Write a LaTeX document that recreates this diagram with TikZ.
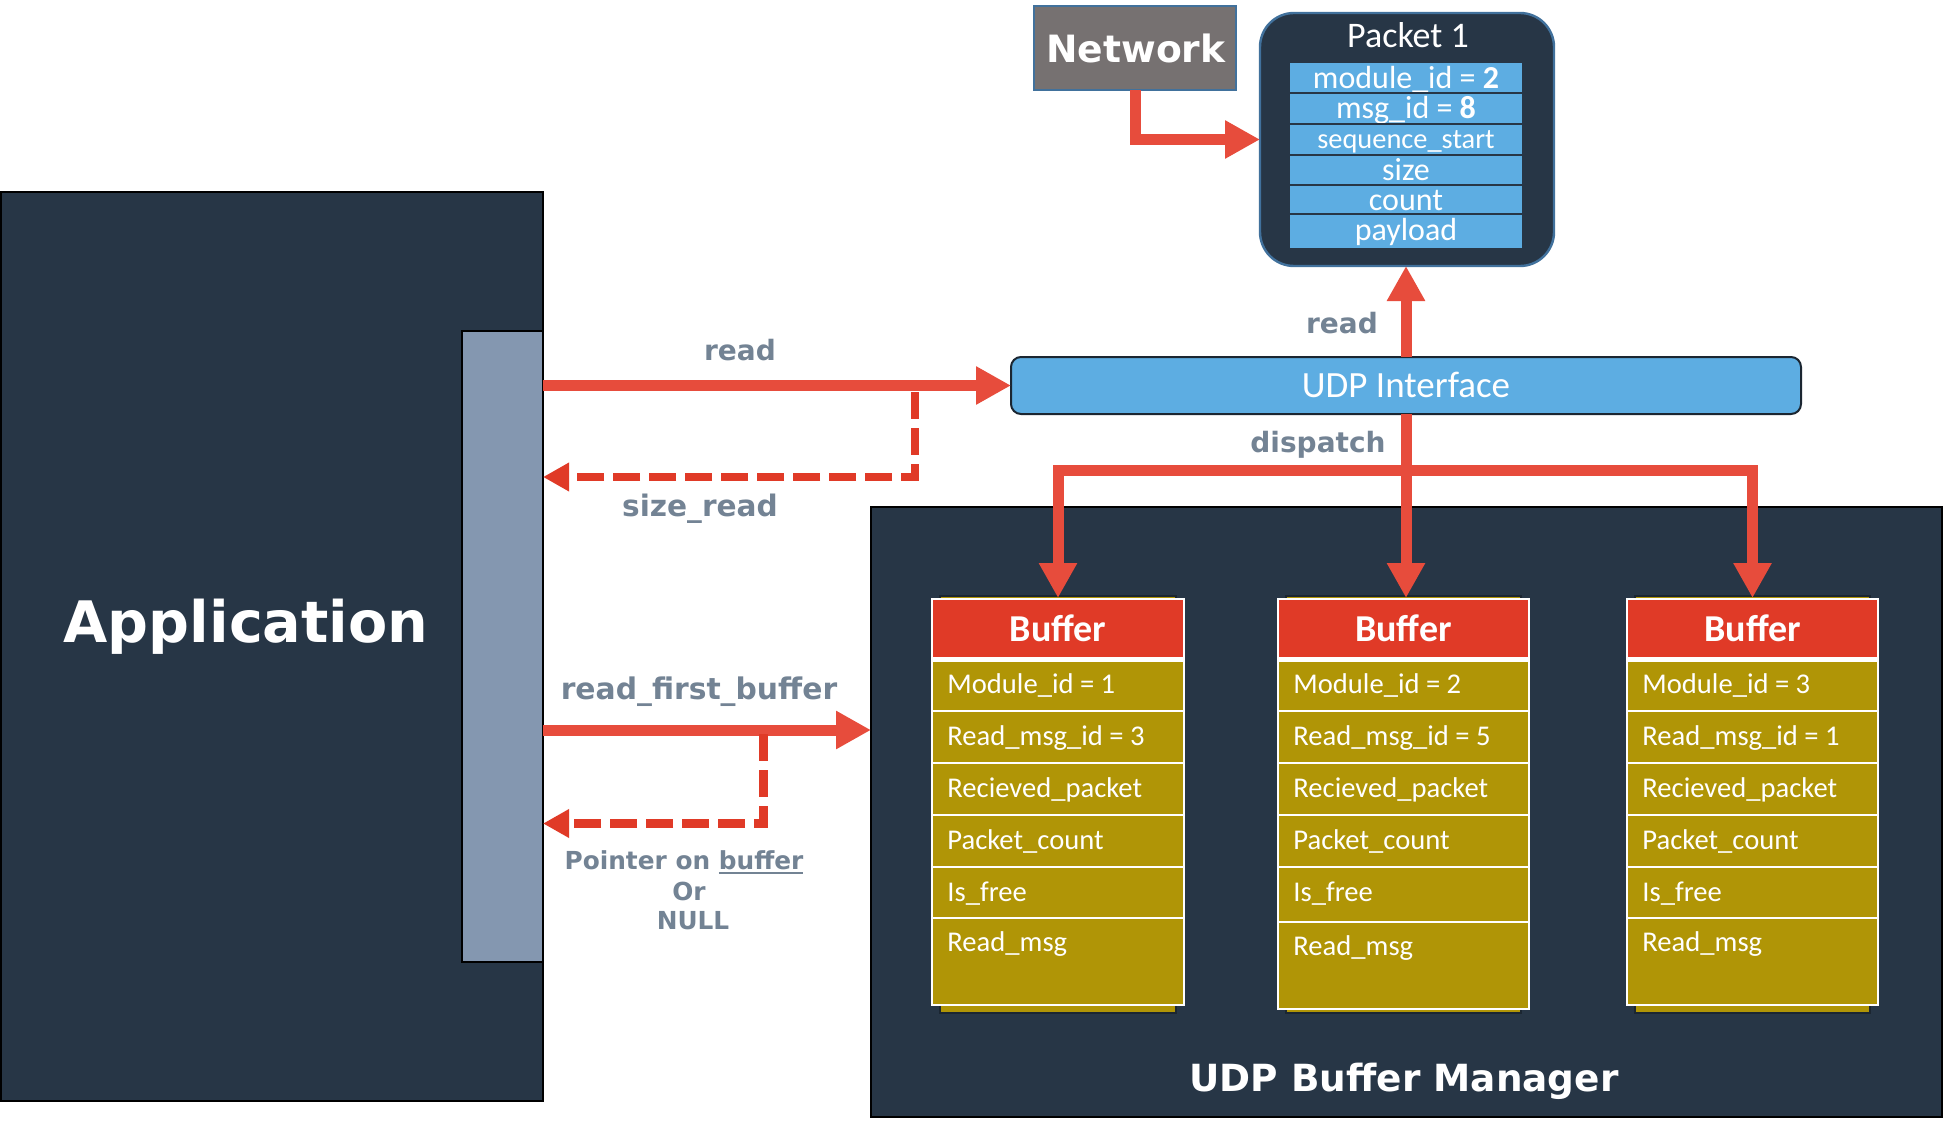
\documentclass[tikz,border=0pt]{standalone}
\usepackage{fontspec}
\setmainfont{DejaVu Sans}
\newfontfamily\carl{Carlito}
\usetikzlibrary{arrows.meta,fit}
\definecolor{navy}{HTML}{273646}
\definecolor{barblue}{HTML}{8497B0}
\definecolor{netgray}{HTML}{767171}
\definecolor{edgeblue}{HTML}{41719C}
\definecolor{skyb}{HTML}{5DADE2}
\definecolor{hdrred}{HTML}{E03A27}
\definecolor{gold}{HTML}{B09506}
\definecolor{arrred}{HTML}{E74C3C}
\definecolor{dashred}{HTML}{E03A27}
\definecolor{lblgray}{HTML}{738394}
\definecolor{shadowc}{HTML}{1B2631}
\definecolor{udpedge}{HTML}{1B2631}
\newcommand\fsz[1]{\fontsize{#1}{#1}\selectfont}
\newcommand\myul[1]{\setbox0\hbox{#1}\rlap{\rule[-2.4pt]{\wd0}{1pt}}\box0}
\begin{document}
\begin{tikzpicture}[x=0.5pt,y=-0.5pt,
  fitbox/.style={inner sep=0pt, outer sep=0pt},
  lbl/.style={text=lblgray, font=\bfseries\fsz{14}, inner sep=0pt, anchor=base},
  wtxt/.style={text=white, inner sep=0pt, anchor=base},
  rowtxt/.style={text=white, font=\carl\fsz{14.3}, inner sep=0pt, anchor=base west},
  redln/.style={draw=arrred, line width=5.5pt},
  redarr/.style={redln, -{Triangle[length=17.5pt,width=18pt]}},
  dashln/.style={draw=dashred, line width=4.2pt, dash pattern=on 13.5pt off 4.5pt, -{Triangle[length=13pt,width=13.5pt]}},
]
\useasboundingbox (0,0) rectangle (1943,1123);
\fill[white] (0,0) rectangle (1943,1123);

% Application
\node[fitbox, fit={(1,192) (543,1101)}, fill=navy, draw=black, line width=1.2pt] (app) {};
\node[fitbox, fit={(462,331) (543,962)}, fill=barblue, draw=black, line width=1pt] (bar) {};
\node[wtxt, font=\bfseries\fsz{28.6}] (apptxt) at (246,642) {Application};

% Network
\node[fitbox, fit={(1034,6) (1236,90)}, fill=netgray, draw=edgeblue, line width=1pt] (net) {};
\node[wtxt, font=\bfseries\fsz{18.8}] (nettxt) at (1136,63) {Network};

% Packet
\node[fitbox, fit={(1260,13) (1554,266)}, fill=navy, draw=edgeblue, line width=1.2pt, rounded corners=17pt] (pkt) {};
\node[wtxt, font=\carl\fsz{18}] (pkttitle) at (1408,48) {Packet 1};
\foreach \n/\t/\b/\bl/\sz/\txt in {1/62/93/88.5/16/{module\_id  = \textbf{2}}, 2/93/124/118.5/16/{msg\_id = \textbf{8}}, 3/124/155/148.5/14.2/{sequence\_start}, 4/155/185/180.5/16/{size}, 5/185/214/210.5/16/{count}, 6/214/249/240.5/16/{payload}}{
  \node[fitbox, fit={(1289,\t) (1523,\b)}, fill=skyb, draw=navy, line width=1.2pt] (fld\n) {};
  \node[wtxt, font=\carl\fsz{\sz}] (fldt\n) at (1406,\bl) {\txt};
}

% UDP interface
\node[fitbox, fit={(1011,357) (1801,414)}, fill=skyb, draw=udpedge, line width=1pt, rounded corners=5pt] (udp) {};
\node[wtxt, font=\carl\fsz{18.5}] (udptxt) at (1406,397) {UDP Interface};

% Manager
\node[fitbox, fit={(871,507) (1942,1117)}, fill=navy, draw=black, line width=1.2pt] (mgr) {};
\node[wtxt, font=\bfseries\fsz{18.7}] (mgrtxt) at (1404,1091) {UDP Buffer Manager};

% Buffers
\foreach \i/\bl/\br/\mi/\ri/\fb/\bb in {1/931/1185/1/3/918/1006, 2/1277/1530/2/5/922/1010, 3/1626/1879/3/1/918/1006}{
  \node[fitbox, fit={(\bl+9,596) (\br-9,1013)}, fill=gold, draw=shadowc, line width=1pt] (sh\i) {};
  \node[fitbox, fit={(\bl,598) (\br,\bb)}, fill=white] (buf\i) {};
  \fill[hdrred] (\bl+2.2,600.2) rectangle (\br-2.2,656.5);
  \node[wtxt, font=\carl\bfseries\fsz{19}] (bh\i) at ({(\bl+\br)/2},641) {Buffer};
  \fill[gold] (\bl+2.2,662) rectangle (\br-2.2,710.2);
  \fill[gold] (\bl+2.2,711.8) rectangle (\br-2.2,762.2);
  \fill[gold] (\bl+2.2,763.8) rectangle (\br-2.2,814.2);
  \fill[gold] (\bl+2.2,815.8) rectangle (\br-2.2,866.2);
  \fill[gold] (\bl+2.2,867.8) rectangle (\br-2.2,\fb-0.8);
  \fill[gold] (\bl+2.2,\fb+0.8) rectangle (\br-2.2,\bb-2.2);
  \node[rowtxt] (r1\i) at (\bl+16,693.5) {Module\_id = \mi};
  \node[rowtxt] (r2\i) at (\bl+16,745) {Read\_msg\_id = \ri};
  \node[rowtxt] (r3\i) at (\bl+16,797) {Recieved\_packet};
  \node[rowtxt] (r4\i) at (\bl+16,849) {Packet\_count};
  \node[rowtxt] (r5\i) at (\bl+16,901) {Is\_free};
  \node[rowtxt] (r6\i) at (\bl+16,\fb+33.5) {Read\_msg};
}

% Connectors
\draw[redarr] (net.south) |- (pkt.west);
\draw[redarr] (udp.north) -- (udp.north |- pkt.south);
\path (0,470) coordinate (djy);
\draw[redarr] (udp.south) -- (udp.south |- buf2.north);
\draw[redarr] (udp.south |- djy) -| (buf1.north);
\draw[redarr] (udp.south |- djy) -| (buf3.north);

\draw[redarr] (bar.east |- udp.west) -- (udp.west);
\coordinate (s1) at (915,392);
\coordinate (s2) at (915,477);
\draw[dashln] (s1) |- (bar.east |- s2);

\coordinate (rf) at (700,730);
\draw[redarr] (bar.east |- rf) -- (mgr.west |- rf);
\coordinate (d1) at (763.5,734);
\coordinate (d2) at (763.5,823.5);
\draw[dashln] (d1) |- (bar.east |- d2);

% Labels
\node[lbl] (lread) at (740,360) {read};
\node[lbl, font=\bfseries\fsz{14.8}] (lsize) at (700,516) {size\_read};
\node[lbl, font=\bfseries\fsz{14.9}] (lrfb) at (699,699) {read\_first\_buffer};
\node[lbl, font=\bfseries\fsz{12.4}] (lp1) at (684,869) {Pointer on \myul{buffer}};
\node[lbl, font=\bfseries\fsz{12.4}] (lp2) at (689,900) {Or};
\node[lbl, font=\bfseries\fsz{12.4}] (lp3) at (693,929) {NULL};
\node[lbl] (lread2) at (1342,333) {read};
\node[lbl] (ldisp) at (1318,452) {dispatch};
\end{tikzpicture}
\end{document}
